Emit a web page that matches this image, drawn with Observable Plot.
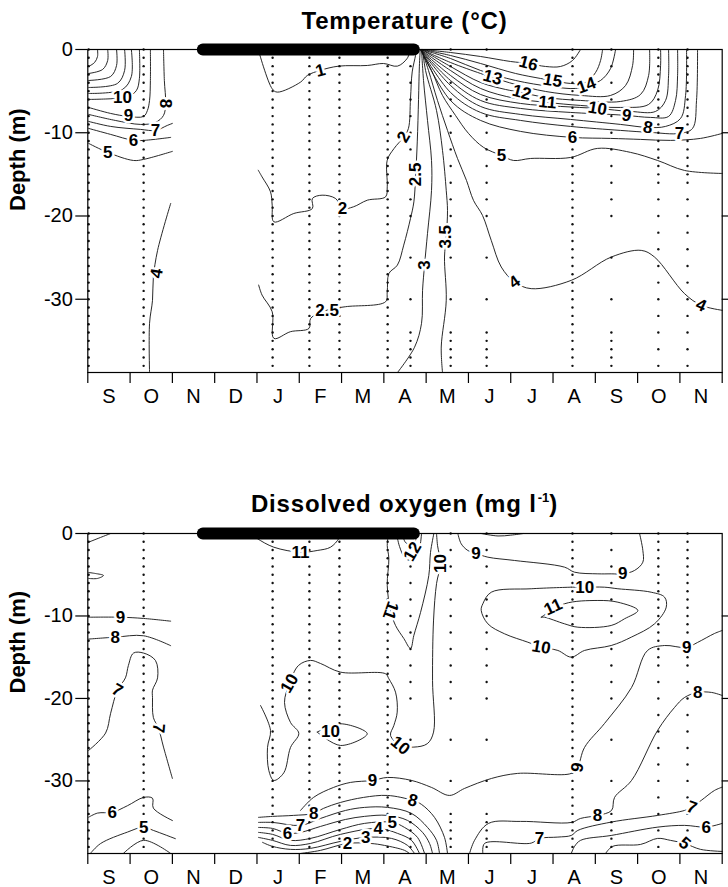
<!DOCTYPE html>
<html><head><meta charset="utf-8">
<script src="https://cdn.jsdelivr.net/npm/d3@7"></script>
<script src="https://cdn.jsdelivr.net/npm/@observablehq/plot@0.6"></script>
<style>
body{margin:0;background:#fff;font-family:"Liberation Sans",Arial,sans-serif;}
#wrap{position:relative;width:728px;height:887px;overflow:hidden;background:#fff}
.title{position:absolute;left:87px;width:635px;text-align:center;font-weight:bold;font-size:24px;line-height:24px;letter-spacing:0.8px;color:#000;white-space:nowrap}
.sup{font-size:13px;position:relative;top:-10px;margin-left:1px;letter-spacing:0}
#p1,#p2{position:absolute;left:0}
</style></head><body>
<div id="wrap">
<div id="p1" style="top:0"></div>
<div id="p2" style="top:445px"></div>
<div class="title" style="top:9px">Temperature (°C)</div>
<div class="title" style="top:492px">Dissolved oxygen (mg l<span class="sup">-1</span>)</div>
</div>
<script>
// ---------- data ----------
const months = ["S","O","N","D","J","F","M","A","M","J","J","A","S","O","N"];
const monthEdges = [0,1,2,3,4,5,6,7,8,9,10,11,12,13,14,15];
const depthTicks = [0,-10,-20,-30];
const rightTicks = [-10,-20,-30];
const iceCover = [[2.72,0],[7.71,0]];
const sampleMonths = [0.02,1.32,4.37,5.24,5.95,7.09,7.63,8.58,9.43,11.46,12.38,13.49,14.18];
const sampleKinds = ["dense","dense","dense","dense","dense","dense","sparse","sparse","sparse","dense","sparse","mixed","mixed"];
const denseDepths = [0,1,2,3,4,5,6,7,8,9,10,11,12,13,14,15,16,17,18,19,20,21,22,23,24,25,26,27,28,29,30,31,32,33,34,35,36,37,38];
const sparseDepths = [0,2,4,6,8,10,12,14,16,18,20,25,30,34,35,36,37,38];
const mixedDepths = [0,1,2,3,4,5,6,7,8,9,10,11,12,13,14,15,16,18,20,22,24,26,28,30,32,34,36,38];

const tempContours = [
 {v:15,p:[[0.23,0],[0.23,-0.84],[0.16,-1.56],[0.02,-2.04]]},
 {v:14,p:[[0.47,0],[0.47,-1.32],[0.35,-2.4],[0.02,-2.88]]},
 {v:13,p:[[0.68,0],[0.68,-1.92],[0.54,-3.24],[0.02,-3.72]]},
 {v:12,p:[[0.87,0],[0.87,-2.52],[0.7,-4.08],[0.02,-4.56]]},
 {v:11,p:[[1.03,0],[1.03,-3.24],[0.82,-4.8],[0.02,-5.28]]},
 {v:10,p:[[1.22,0],[1.22,-3.48],[1.15,-4.92],[0.96,-5.64],[0.65,-5.88],[0.02,-6.0]]},
 {v:9,p:[[1.48,0],[1.48,-3.72],[1.46,-6.12],[1.41,-7.32],[1.32,-8.04],[0.96,-8.04],[0.54,-7.68],[0.02,-6.96]]},
 {v:8,p:[[1.79,0],[1.81,-3.72],[1.84,-6.48],[1.79,-7.92],[1.6,-8.76],[1.25,-9.0],[0.65,-8.52],[0.02,-7.8]]},
 {v:7,p:[[0.02,-8.64],[0.54,-9.24],[1.25,-9.6],[1.6,-9.72],[1.88,-9.12],[2.0,-8.88]]},
 {v:6,p:[[0.02,-9.48],[0.54,-10.2],[1.08,-10.92],[1.32,-10.92],[1.96,-10.56]]},
 {v:5,p:[[0.02,-11.28],[0.47,-12.36],[1.08,-13.33],[1.32,-13.2],[2.0,-12.24]]},
 {v:4,p:[[1.96,-18.49],[1.65,-24.13],[1.55,-27.37],[1.53,-30.13],[1.46,-32.89],[1.46,-38.8]]},
 {v:1,p:[[4.03,0],[4.36,-4.72],[4.48,-5.12],[5.03,-3.92],[5.19,-3.12],[5.5,-2.5],[5.93,-2.0],[6.61,-1.92],[6.99,-1.68],[7.32,-2.0],[7.55,-1.08],[7.63,0]]},
 {v:2,p:[[4.03,-14.5],[4.12,-15.3],[4.32,-17.1],[4.36,-18.7],[4.4,-20.7],[4.87,-19.7],[5.31,-19.1],[5.31,-17.9],[5.54,-17.5],[5.86,-17.9],[6.02,-19.1],[6.28,-18.9],[6.61,-18.1],[7.04,-17.7],[7.08,-16.5],[7.08,-13.3],[7.24,-11.9],[7.47,-10.5],[7.58,-9.5],[7.63,-5.9],[7.67,-2.7],[7.75,-0.7],[7.77,0]]},
 {v:2.5,p:[[4.04,-28.3],[4.12,-29.5],[4.36,-31.5],[4.4,-34.7],[4.79,-33.9],[5.23,-33.5],[5.27,-32.3],[5.66,-31.3],[6.09,-30.9],[7.04,-30.3],[7.08,-29.1],[7.12,-26.9],[7.32,-25.9],[7.47,-23.5],[7.63,-20.3],[7.71,-18.3],[7.75,-15.3],[7.79,-11.1],[7.82,-6],[7.84,-2],[7.86,0]]},
 {v:3,p:[[7.891,0],[7.938,-3.72],[8.032,-8.52],[8.127,-13.33],[8.127,-16.93],[8.032,-22.09],[7.962,-25.93],[7.915,-28.93],[7.891,-32.89],[7.725,-35.77],[7.323,-38.8]]},
 {v:3.5,p:[[7.915,0],[7.986,-2.52],[8.245,-7.32],[8.387,-12.12],[8.475,-16.93],[8.505,-19.33],[8.475,-22.53],[8.434,-24.93],[8.475,-30.13],[8.357,-35.74],[8.387,-38.8]]},
 {v:4,p:[[7.891,0],[8.056,-2.52],[8.268,-6.12],[8.505,-9.72],[8.741,-13.09],[8.954,-15.73],[9.12,-18.13],[9.333,-19.93],[9.539,-22.93],[9.776,-26.13],[10.09,-27.93],[10.485,-28.73],[11.431,-27.73],[12.377,-24.93],[13.086,-24.13],[13.4,-24.93],[14.11,-29.33],[14.504,-30.73],[15,-31.33]]},
 {v:5,p:[[7.867,0],[8.127,-2.52],[8.387,-5.52],[8.694,-7.92],[9.001,-10.08],[9.357,-11.76],[9.783,-12.73],[10.067,-13.33],[10.469,-13.09],[11.414,-12.97],[12.053,-11.88],[12.834,-12.36],[13.472,-13.33],[14.11,-14.53],[15,-14.89]]},
 {v:6,p:[[7.867,0],[8.576,-6.12],[9.286,-8.52],[10.232,-9.84],[11.461,-10.56],[12.361,-10.68],[13.07,-10.8],[13.779,-10.92],[14.488,-10.68],[15,-10.08]]},
 {v:7,p:[[7.867,0],[8.576,-5.16],[9.286,-7.56],[10.232,-8.52],[11.414,-9.24],[12.597,-9.72],[13.307,-9.96],[13.992,-10.08],[14.299,-9.48],[14.393,-6.12],[14.417,0]]},
 {v:8,p:[[7.867,0],[8.576,-4.32],[9.286,-6.84],[10.232,-7.8],[11.414,-8.4],[12.597,-9.0],[13.236,-9.36],[13.661,-9.24],[14.016,-8.28],[14.134,-5.52],[14.157,0]]},
 {v:9,p:[[7.867,0],[8.576,-3.72],[9.286,-6.12],[10.232,-7.08],[11.414,-7.56],[12.361,-7.8],[12.739,-7.92],[13.307,-8.16],[13.732,-8.04],[13.897,-6.12],[13.945,-3.12],[13.945,0]]},
 {v:10,p:[[7.867,0],[8.576,-3.12],[9.286,-5.4],[10.232,-6.48],[11.177,-6.84],[12.053,-7.08],[12.834,-7.44],[13.425,-7.44],[13.661,-6.12],[13.732,-3.12],[13.732,0]]},
 {v:11,p:[[7.867,0],[8.576,-2.52],[9.286,-4.68],[10.114,-5.88],[10.87,-6.36],[11.65,-6.72],[12.597,-6.96],[13.26,-6.6],[13.472,-4.92],[13.543,-1.92],[13.543,0]]},
 {v:12,p:[[7.891,0],[8.576,-2.04],[9.286,-3.96],[9.877,-4.8],[10.256,-5.16],[10.823,-5.76],[11.65,-6.12],[12.597,-6.24],[13.07,-5.4],[13.26,-3.12],[13.283,0]]},
 {v:13,p:[[7.891,0],[8.576,-1.56],[9.286,-2.88],[9.57,-3.36],[10.114,-4.2],[10.823,-5.04],[11.65,-5.52],[12.361,-5.52],[12.716,-4.32],[12.881,-1.92],[12.905,0]]},
 {v:14,p:[[7.891,0],[8.576,-1.08],[9.286,-2.52],[10.114,-3.72],[10.941,-4.44],[11.532,-4.68],[11.793,-4.32],[12.124,-3.72],[12.361,-2.28],[12.479,0]]},
 {v:15,p:[[7.915,0],[8.576,-0.72],[9.286,-1.68],[10.114,-2.88],[10.705,-3.48],[10.988,-3.72],[11.414,-4.08],[11.769,-3.96],[12.006,-2.76],[12.124,-1.32],[12.172,0]]},
 {v:16,p:[[7.915,0],[8.576,-0.36],[9.286,-0.84],[9.996,-1.44],[10.421,-1.68],[10.823,-2.04],[11.177,-2.04],[11.461,-1.32],[11.65,0]]}
];
const tempLabels = [
 {t:"10",m:0.82,d:-5.76,a:0},{t:"9",m:0.96,d:-7.92,a:0},{t:"8",m:1.84,d:-6.48,a:90},
 {t:"7",m:1.6,d:-9.72,a:0},{t:"6",m:1.08,d:-10.92,a:0},{t:"5",m:0.47,d:-12.36,a:0},
 {t:"4",m:1.63,d:-26.9,a:-80},{t:"1",m:5.5,d:-2.52,a:-15},{t:"2",m:6.02,d:-19.1,a:0},
 {t:"2",m:7.47,d:-10.5,a:-60},{t:"2.5",m:5.66,d:-31.3,a:0},{t:"2.5",m:7.75,d:-15,a:-90},
 {t:"3",m:7.96,d:-25.9,a:-90},{t:"3.5",m:8.47,d:-22.5,a:-90},{t:"4",m:10.09,d:-27.93,a:-35},
 {t:"4",m:14.5,d:-30.73,a:25},{t:"5",m:9.78,d:-12.73,a:0},{t:"6",m:11.46,d:-10.56,a:0},
 {t:"7",m:13.99,d:-10.08,a:0},{t:"8",m:13.24,d:-9.36,a:10},{t:"9",m:12.74,d:-7.92,a:10},
 {t:"10",m:12.05,d:-7.08,a:10},{t:"11",m:10.87,d:-6.36,a:5},{t:"12",m:10.26,d:-5.16,a:15},
 {t:"13",m:9.57,d:-3.36,a:15},{t:"14",m:11.79,d:-4.32,a:-20},{t:"15",m:10.99,d:-3.72,a:10},
 {t:"16",m:10.42,d:-1.68,a:15}
];

const oxyContours = [
 {v:9.5,p:[[0.02,-1.05],[0.3,-0.48],[0.54,0]]},
 {v:9.5,p:[[0.02,-4.73],[0.18,-4.85],[0.37,-5.09],[0.23,-5.45],[0.02,-5.45]]},
 {v:9,p:[[0.02,-10.15],[0.77,-10.15],[1.32,-10.3],[1.96,-10.63]]},
 {v:8,p:[[0.02,-12.8],[0.65,-12.57],[1.32,-12.4],[1.96,-13.6]]},
 {v:7,p:[[0.02,-26.3],[0.42,-24.2],[0.54,-21.8],[0.7,-19.0],[0.89,-17.5],[0.96,-16.0],[1.08,-14.5],[1.32,-14.5],[1.6,-15.4],[1.65,-17.5],[1.53,-19.0],[1.53,-19.9],[1.55,-22.3],[1.67,-23.6],[1.79,-25.9],[2.0,-29.7]]},
 {v:6,p:[[0.02,-34.4],[0.23,-33.9],[0.58,-33.8],[0.94,-33.0],[1.32,-32.0],[1.53,-32.1],[1.55,-33.3],[2.0,-34.8]]},
 {v:5,p:[[0.06,-38.8],[0.3,-37.6],[0.94,-36.2],[1.32,-35.6],[1.55,-36.0],[2.07,-37.0]]},
 {v:4,p:[[0.84,-38.8],[1.32,-37.2],[1.96,-38.8]]},
 {v:11,p:[[3.847,0],[4.006,-0.61],[4.398,-1.66],[5.03,-2.27],[5.424,-2.06],[5.739,-1.66],[5.935,-0.61],[5.975,0]]},
 {v:10,p:[[4.084,-20.85],[4.32,-23.88],[4.249,-25.94],[4.28,-28.73],[4.398,-29.94],[4.635,-29.01],[4.793,-25.94],[4.989,-24.24],[4.793,-22.91],[4.651,-20.48],[4.769,-18.18],[4.982,-16.0],[5.266,-15.39],[5.502,-15.76],[5.975,-16.81],[7.04,-17.01],[7.118,-17.61],[7.276,-19.24],[7.316,-21.66],[7.237,-23.27],[7.158,-24.48],[7.394,-25.7],[7.709,-25.9],[8.026,-25.49],[8.175,-24.08],[8.151,-17.82],[8.175,-10.5],[8.246,-6.06],[8.339,-3.64],[8.269,-1.45],[8.246,0]]},
 {v:10,p:[[5.424,-24.08],[5.975,-23.07],[6.607,-24.28],[5.975,-25.7],[5.424,-24.08]]},
 {v:11,p:[[7.11,0],[7.08,-1.45],[7.118,-3.03],[7.08,-6.3],[7.158,-9.33],[7.276,-11.15],[7.472,-12.73],[7.631,-13.94],[7.709,-12.36],[7.867,-9.58],[8.063,-5.09],[8.103,-2.3],[8.182,0]]},
 {v:12,p:[[7.3,0],[7.371,-1.58],[7.512,-3.03],[7.725,-3.27],[7.843,-1.82],[7.891,0]]},
 {v:13,p:[[7.44,0],[7.512,-1.09],[7.654,-1.33],[7.749,-0.85],[7.773,0]]},
 {v:9,p:[[5.03,-33.58],[5.337,-32.0],[5.81,-30.79],[6.212,-30.18],[6.732,-29.94],[7.087,-29.58],[7.654,-29.94],[8.127,-30.79],[8.552,-31.76],[8.908,-30.91],[9.546,-29.7],[10.161,-29.09],[11.431,-29.09],[11.58,-28.36],[11.745,-25.94],[12.218,-23.03],[12.857,-18.67],[13.235,-14.18],[13.637,-13.58],[14.157,-13.82],[14.417,-13.21],[14.819,-12.12],[15,-11.76]]},
 {v:8,p:[[4.036,-34.42],[4.368,-34.3],[4.864,-34.18],[5.337,-33.94],[5.573,-33.33],[5.975,-32.61],[6.519,-32.0],[7.087,-31.76],[7.678,-32.36],[7.891,-32.85],[8.198,-34.42],[8.434,-36.85],[8.505,-38.8]]},
 {v:7,p:[[4.036,-35.03],[4.368,-35.03],[5.03,-35.39],[5.502,-34.55],[6.094,-33.58],[6.543,-33.21],[7.087,-33.21],[7.654,-33.94],[8.033,-35.64],[8.246,-37.21],[8.316,-38.8]]},
 {v:6,p:[[4.036,-35.64],[4.368,-35.76],[4.722,-36.36],[5.03,-36.24],[5.502,-35.52],[6.094,-34.67],[6.543,-34.3],[7.087,-34.18],[7.56,-34.79],[7.915,-36.24],[8.08,-37.58],[8.151,-38.8]]},
 {v:5,p:[[4.036,-36.24],[4.368,-36.48],[4.793,-37.21],[5.266,-36.97],[5.975,-35.88],[6.543,-35.15],[7.205,-35.03],[7.489,-35.64],[7.796,-36.85],[7.962,-38.8]]},
 {v:4,p:[[4.036,-36.85],[4.368,-37.21],[4.793,-37.82],[5.266,-37.58],[5.975,-36.48],[6.874,-35.76],[7.323,-36.36],[7.654,-37.21],[7.843,-38.8]]},
 {v:3,p:[[4.131,-37.45],[4.368,-37.94],[4.793,-38.3],[5.266,-38.18],[5.975,-37.33],[6.567,-36.85],[7.181,-36.97],[7.56,-37.82],[7.725,-38.8]]},
 {v:2,p:[[5.03,-38.8],[5.502,-38.42],[6.141,-37.58],[6.685,-37.58],[7.016,-37.82],[7.489,-38.42],[7.607,-38.8]]},
 {v:9,p:[[8.749,0],[8.829,-1.25],[8.986,-2.06],[9.184,-2.42],[9.459,-2.87],[10.09,-3.27],[11.272,-4.08],[11.509,-4.69],[12.06,-4.89],[12.376,-4.89],[12.651,-4.89],[12.928,-4.48],[13.124,-3.48],[13.124,-2.06],[13.046,0]]},
 {v:8.5,p:[[9.3,0],[9.7,-0.3],[10.0,-0.2],[10.3,0]]},
 {v:10,p:[[11.431,-6.51],[10.485,-6.7],[9.539,-7.12],[9.341,-8.52],[9.302,-9.33],[9.459,-10.95],[9.853,-12.16],[10.404,-13.18],[10.721,-13.78],[11.114,-14.18],[11.431,-14.99],[11.745,-14.18],[12.376,-13.58],[12.85,-12.57],[13.401,-10.95],[13.677,-8.93],[13.637,-7.72],[13.322,-7.12],[12.533,-6.7],[12.218,-6.51],[11.745,-6.51],[11.431,-6.51]]},
 {v:11,p:[[10.721,-10.15],[11.272,-8.52],[12.06,-8.12],[12.533,-8.33],[13.006,-9.33],[12.691,-10.34],[12.376,-11.15],[11.587,-11.36],[11.272,-10.95],[10.799,-10.15],[10.721,-10.15]]},
 {v:8,p:[[9.026,-38.8],[9.144,-37.21],[9.475,-35.15],[10.232,-34.91],[11.438,-35.03],[11.65,-34.55],[12.053,-34.18],[12.384,-33.58],[12.455,-32.0],[12.857,-29.94],[13.472,-23.88],[13.873,-21.09],[14.11,-19.88],[14.417,-19.27],[14.748,-19.27],[15,-19.64]]},
 {v:7,p:[[9.341,-38.8],[9.381,-37.58],[10.485,-37.54],[10.681,-36.97],[11.114,-36.81],[11.431,-36.61],[11.587,-36.0],[12.376,-34.99],[13.479,-34.18],[14.11,-33.58],[14.276,-33.21],[14.505,-32.36],[14.819,-31.15],[15,-30.75]]},
 {v:6,p:[[11.431,-38.8],[11.509,-37.94],[11.65,-37.21],[12.376,-36.61],[13.479,-35.6],[14.11,-35.39],[14.623,-35.6],[15,-35.15]]},
 {v:5,p:[[12.242,-38.8],[12.407,-37.94],[13.07,-37.7],[13.472,-36.97],[13.779,-37.21],[14.11,-37.58],[14.488,-38.3],[15,-38.55]]}
];
const oxyLabels = [
 {t:"9",m:0.77,d:-10.15,a:0},{t:"8",m:0.65,d:-12.57,a:0},{t:"7",m:0.7,d:-19.0,a:30},
 {t:"7",m:1.67,d:-23.6,a:95},{t:"6",m:0.58,d:-33.8,a:0},{t:"5",m:1.32,d:-35.6,a:0},
 {t:"11",m:5.03,d:-2.27,a:0},{t:"10",m:4.77,d:-18.18,a:-60},{t:"10",m:5.74,d:-24.0,a:0},
 {t:"10",m:7.39,d:-25.7,a:40},{t:"11",m:7.16,d:-9.33,a:110},{t:"12",m:7.68,d:-2.18,a:-60},
 {t:"10",m:8.34,d:-3.64,a:-90},{t:"9",m:6.73,d:-29.94,a:0},{t:"8",m:7.68,d:-32.36,a:15},
 {t:"8",m:5.34,d:-33.94,a:0},{t:"7",m:5.03,d:-35.39,a:0},{t:"6",m:4.72,d:-36.36,a:0},
 {t:"5",m:7.2,d:-35.03,a:0},{t:"4",m:6.87,d:-35.76,a:0},{t:"3",m:6.57,d:-36.85,a:0},
 {t:"2",m:6.14,d:-37.58,a:0},{t:"9",m:9.18,d:-2.42,a:0},{t:"9",m:12.65,d:-4.89,a:0},
 {t:"10",m:11.75,d:-6.51,a:0},{t:"11",m:11.0,d:-8.9,a:-25},{t:"10",m:10.72,d:-13.78,a:10},
 {t:"9",m:11.58,d:-28.36,a:-80},{t:"9",m:14.16,d:-13.82,a:0},{t:"8",m:14.42,d:-19.27,a:0},
 {t:"8",m:12.05,d:-34.18,a:0},{t:"7",m:10.68,d:-36.97,a:0},{t:"7",m:14.28,d:-33.21,a:20},
 {t:"6",m:14.62,d:-35.6,a:0},{t:"5",m:14.11,d:-37.58,a:40}
];

// ---------- drawing ----------
const FONT = '"Liberation Sans", Arial, sans-serif';
const depthLists = {dense: denseDepths, sparse: sparseDepths, mixed: mixedDepths};
const samples = sampleMonths.flatMap((m, i) => depthLists[sampleKinds[i]].map(d => ({m, d: -d})));

function panel(contours, labels, height, mt, mb) {
  const lines = contours.flatMap((c, i) => c.p.map(([m, d]) => ({id: i, m, d})));
  return Plot.plot({
    width: 728, height,
    marginLeft: 87.3, marginRight: 6.3, marginTop: mt, marginBottom: mb,
    x: {domain: [0, 15], axis: null},
    y: {domain: [-38.8, 0], axis: null},
    style: {fontFamily: FONT, background: "white", overflow: "visible", color: "#000"},
    marks: [
      Plot.dot(samples, {x: "m", y: "d", r: 1.2, fill: "#111", stroke: null}),
      Plot.line(lines, {x: "m", y: "d", z: "id", stroke: "#111", strokeWidth: 0.9, curve: "catmull-rom"}),
      Plot.text(labels, {x: "m", y: "d", text: "t", rotate: "a", fontSize: 17, fontWeight: "bold",
        fill: "#000", stroke: "white", strokeWidth: 5}),
      Plot.frame({stroke: "#000", strokeWidth: 1.2}),
      Plot.line(iceCover, {x: d => d[0], y: d => d[1], stroke: "#000", strokeWidth: 12, strokeLinecap: "round"}),
      Plot.ruleY(rightTicks, {x1: 15, x2: 15.15, stroke: "#000", strokeWidth: 1.2}),
      Plot.axisY({ticks: depthTicks, tickSize: 12, tickPadding: 3, fontSize: 20, tickFormat: d => String(d), label: null, strokeWidth: 1.2}),
      Plot.axisX({ticks: monthEdges, tickSize: 11, tickFormat: () => "", label: null, strokeWidth: 1.2}),
      Plot.text(months, {x: (d, i) => i + 0.5, y: -38.8, dy: 24, text: d => d, fontSize: 20}),
      Plot.text(["Depth (m)"], {frameAnchor: "left", dx: -70, rotate: -90, text: d => d, fontSize: 22, fontWeight: "bold"})
    ]
  });
}

document.getElementById("p1").append(panel(tempContours, tempLabels, 445, 49, 73));
document.getElementById("p2").append(panel(oxyContours, oxyLabels, 442, 88, 34));
</script>
</body></html>
